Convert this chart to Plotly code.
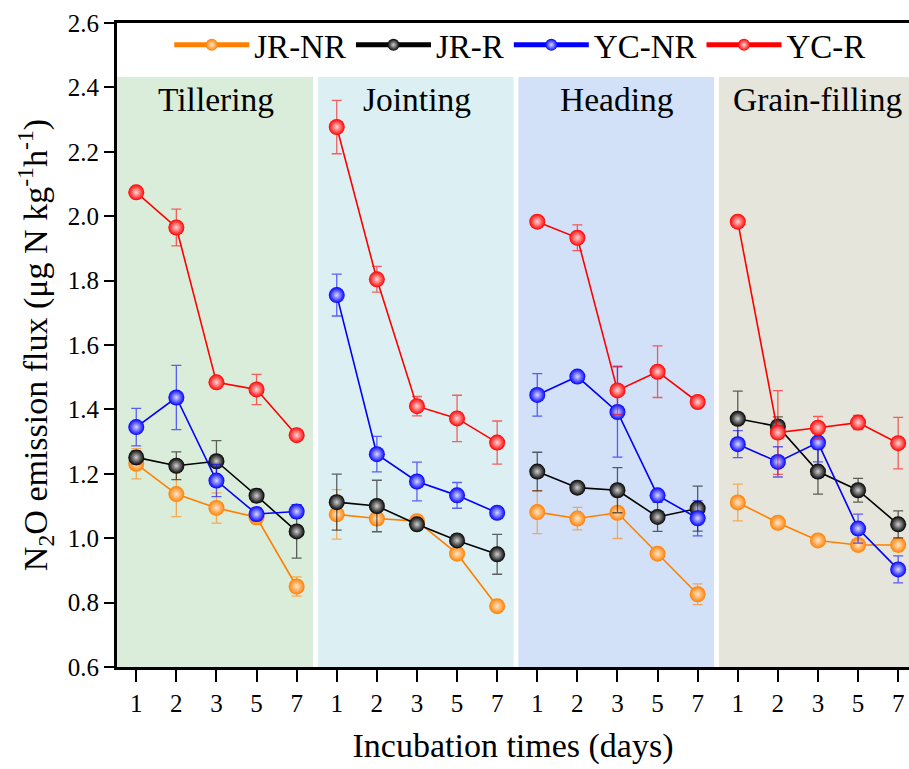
import plotly.graph_objects as go

# ---------------- data ----------------
stages = ["Tillering", "Jointing", "Heading", "Grain-filling"]
days = ["1", "2", "3", "5", "7"]
series_names = ["JR-NR", "JR-R", "YC-NR", "YC-R"]

# values per stage (Tillering, Jointing, Heading, Grain-filling), days 1,2,3,5,7
jr_nr = [1.231, 1.137, 1.094, 1.065, 0.850,
         1.074, 1.061, 1.053, 0.952, 0.789,
         1.081, 1.061, 1.079, 0.952, 0.826,
         1.111, 1.048, 0.993, 0.979, 0.979]
jr_nr_err = [0.047, 0.070, 0.047, 0.020, 0.030,
             0.077, 0.020, 0.010, 0.010, 0.010,
             0.067, 0.035, 0.080, 0.010, 0.032,
             0.057, 0.010, 0.010, 0.015, 0.020]

jr_r = [1.251, 1.225, 1.239, 1.132, 1.021,
        1.112, 1.100, 1.043, 0.993, 0.950,
        1.207, 1.157, 1.149, 1.066, 1.092,
        1.371, 1.347, 1.207, 1.149, 1.043]
jr_r_err = [0.020, 0.043, 0.064, 0.020, 0.083,
            0.087, 0.080, 0.010, 0.010, 0.062,
            0.060, 0.010, 0.070, 0.045, 0.070,
            0.086, 0.030, 0.070, 0.037, 0.042]

yc_nr = [1.345, 1.437, 1.179, 1.075, 1.083,
         1.755, 1.261, 1.176, 1.133, 1.079,
         1.445, 1.502, 1.392, 1.133, 1.062,
         1.292, 1.237, 1.297, 1.030, 0.903]
yc_nr_err = [0.058, 0.100, 0.050, 0.020, 0.020,
             0.065, 0.055, 0.060, 0.040, 0.010,
             0.066, 0.010, 0.140, 0.010, 0.055,
             0.042, 0.047, 0.060, 0.045, 0.042]

yc_r = [2.074, 1.965, 1.484, 1.462, 1.320,
        2.277, 1.804, 1.410, 1.372, 1.297,
        1.983, 1.933, 1.459, 1.517, 1.423,
        1.983, 1.328, 1.343, 1.359, 1.295]
yc_r_err = [0.010, 0.057, 0.010, 0.047, 0.010,
            0.083, 0.040, 0.030, 0.072, 0.067,
            0.010, 0.040, 0.075, 0.080, 0.010,
            0.010, 0.130, 0.035, 0.022, 0.080]

# ---------------- styles ----------------
colors = ["#FF8000", "#000000", "#0000FF", "#FF0000"]
err_colors = ["rgba(255,128,0,0.6)", "rgba(0,0,0,0.6)",
              "rgba(0,0,255,0.6)", "rgba(255,0,0,0.6)"]
highlight = ["#FFE6CC", "#D0D0D0", "#D8D8FF", "#FFD8D8"]
stage_fill = ["#DAEDDA", "#DCF0F3", "#D2E1F8", "#E5E5DB"]
FONT = "Liberation Serif, Times New Roman, serif"

values = [jr_nr, jr_r, yc_nr, yc_r]
errors = [jr_nr_err, jr_r_err, yc_nr_err, yc_r_err]

n_days = len(days)


def with_gaps(arr, fill=None):
    out = []
    for s in range(len(stages)):
        out.extend(arr[s * n_days:(s + 1) * n_days])
        if s < len(stages) - 1:
            out.append(fill)
    return out


x_idx = list(range(len(stages) * n_days))
x_gapped = with_gaps(x_idx)

fig = go.Figure()
for name, vals, errs, c, ec, hl in zip(series_names, values, errors,
                                        colors, err_colors, highlight):
    fig.add_trace(go.Scatter(
        x=x_gapped, y=with_gaps(vals), name=name, mode="lines+markers",
        connectgaps=False,
        line=dict(color=c, width=1.6),
        marker=dict(color=c, size=16, line=dict(width=0),
                    gradient=dict(type="radial", color=hl)),
        error_y=dict(type="data", array=with_gaps(errs, 0), visible=True,
                     color=ec, thickness=1.3, width=5),
    ))

# stage backgrounds
for s, (st, fc) in enumerate(zip(stages, stage_fill)):
    fig.add_shape(type="rect", xref="x", yref="y",
                  x0=s * n_days - 0.5 + (0.03 if s > 0 else 0),
                  x1=s * n_days + n_days - 0.59,
                  y0=0.6, y1=2.432, fillcolor=fc, line=dict(width=0),
                  layer="below")
    fig.add_annotation(x=s * n_days + 2, y=2.362, xref="x", yref="y",
                       text=st, showarrow=False,
                       font=dict(family=FONT, size=33.5, color="black"),
                       yanchor="middle")

fig.update_layout(
    width=909, height=769,
    margin=dict(l=117, r=0, t=23, b=102),
    paper_bgcolor="white", plot_bgcolor="white",
    font=dict(family=FONT, color="black"),
    showlegend=True,
    legend=dict(orientation="h", x=0.066, y=0.966, xanchor="left",
                yanchor="middle", font=dict(family=FONT, size=33),
                bgcolor="rgba(0,0,0,0)", itemwidth=75,
                itemsizing="constant", tracegroupgap=0),
)

fig.update_xaxes(
    range=[-0.48, 19.27], tickmode="array", tickvals=x_idx,
    ticktext=days * len(stages), showgrid=False, zeroline=False,
    showline=True, linecolor="black", linewidth=3, mirror=True,
    ticks="outside", ticklen=12, tickwidth=2, tickcolor="black",
    tickfont=dict(family=FONT, size=25),
    title=dict(text="Incubation times (days)",
               font=dict(family=FONT, size=34), standoff=18),
)
fig.update_yaxes(
    range=[0.6, 2.6], tickmode="array",
    tickvals=[0.6, 0.8, 1.0, 1.2, 1.4, 1.6, 1.8, 2.0, 2.2, 2.4, 2.6],
    ticktext=["0.6", "0.8", "1.0", "1.2", "1.4", "1.6", "1.8", "2.0",
              "2.2", "2.4", "2.6"],
    showgrid=False, zeroline=False,
    showline=True, linecolor="black", linewidth=3,
    ticks="outside", ticklen=10, tickwidth=2, tickcolor="black",
    tickfont=dict(family=FONT, size=25),
    title=dict(text="N<sub>2</sub>O emission flux (μg N kg<sup>-1</sup>h<sup>-1</sup>)",
               font=dict(family=FONT, size=34), standoff=10),
)

fig.write_html("out.html")
